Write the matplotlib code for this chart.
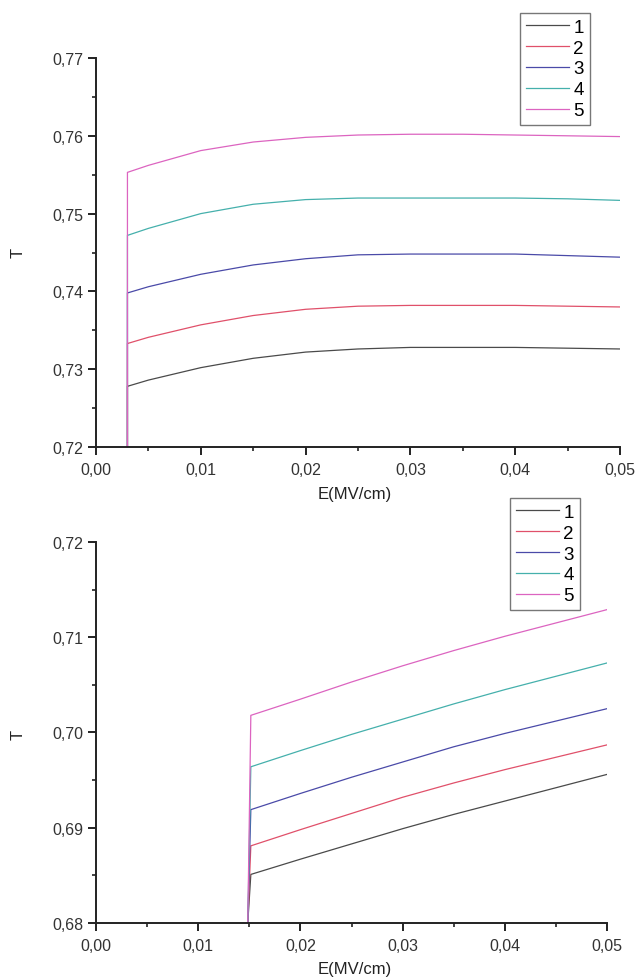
import matplotlib
matplotlib.use('Agg')
import matplotlib.pyplot as plt
from matplotlib.ticker import MultipleLocator, FuncFormatter

plt.rcParams['font.family'] = ['Liberation Sans', 'DejaVu Sans']

labels = ['1', '2', '3', '4', '5']
colors = ['#4a4a4a', '#e0506a', '#4a4aa8', '#45b0ac', '#dc64c0']

# top panel
E_top = [0.003, 0.003, 0.005, 0.01, 0.015, 0.02, 0.025, 0.03, 0.035, 0.04, 0.045, 0.05]
T_top = [
    [0.72, 0.7278, 0.7286, 0.7302, 0.7314, 0.7322, 0.7326, 0.7328, 0.7328, 0.7328, 0.7327, 0.7326],
    [0.72, 0.7333, 0.7341, 0.7357, 0.7369, 0.7377, 0.7381, 0.7382, 0.7382, 0.7382, 0.7381, 0.7380],
    [0.72, 0.7398, 0.7406, 0.7422, 0.7434, 0.7442, 0.7447, 0.7448, 0.7448, 0.7448, 0.7446, 0.7444],
    [0.72, 0.7472, 0.7481, 0.7500, 0.7512, 0.7518, 0.7520, 0.7520, 0.7520, 0.7520, 0.7519, 0.7517],
    [0.72, 0.7553, 0.7562, 0.7581, 0.7592, 0.7598, 0.7601, 0.7602, 0.7602, 0.7601, 0.7600, 0.7599],
]

# bottom panel
E_bot = [0.01485, 0.01515, 0.02, 0.025, 0.03, 0.035, 0.04, 0.045, 0.05]
T_bot = [
    [0.68, 0.6851, 0.6867, 0.6883, 0.6899, 0.6914, 0.6928, 0.6942, 0.6956],
    [0.68, 0.6881, 0.6898, 0.6915, 0.6932, 0.6947, 0.6961, 0.6974, 0.6987],
    [0.68, 0.6919, 0.6936, 0.6953, 0.6969, 0.6985, 0.6999, 0.7012, 0.7025],
    [0.68, 0.6964, 0.6981, 0.6998, 0.7014, 0.7030, 0.7045, 0.7059, 0.7073],
    [0.68, 0.7018, 0.7035, 0.7053, 0.7070, 0.7086, 0.7101, 0.7115, 0.7129],
]

W, H = 636, 978
fig = plt.figure(figsize=(W / 100, H / 100), dpi=100)

comma = FuncFormatter(lambda v, p: ('%.2f' % v).replace('.', ','))


def style(ax, ylo, yhi):
    ax.set_xlim(0, 0.05)
    ax.set_ylim(ylo, yhi)
    for s in ['top', 'right']:
        ax.spines[s].set_visible(False)
    for s in ['left', 'bottom']:
        ax.spines[s].set_linewidth(1.4)
        ax.spines[s].set_color('#222222')
    ax.xaxis.set_major_locator(MultipleLocator(0.01))
    ax.xaxis.set_minor_locator(MultipleLocator(0.005))
    ax.yaxis.set_major_locator(MultipleLocator(0.01))
    ax.yaxis.set_minor_locator(MultipleLocator(0.005))
    ax.xaxis.set_major_formatter(comma)
    ax.yaxis.set_major_formatter(comma)
    ax.tick_params(which='major', length=6, width=1.4, color='#222222',
                   labelsize=11.5, labelcolor='#333333', pad=3)
    ax.tick_params(axis='x', which='major', pad=5)
    ax.tick_params(which='minor', length=3, width=1.2, color='#222222')


def legend(ax, x0, y0):
    ax.legend(loc='upper left', bbox_to_anchor=(x0 / W, 1 - y0 / H),
              bbox_transform=fig.transFigure, fontsize=13.5, frameon=True,
              fancybox=False, edgecolor='#777777', framealpha=1,
              borderaxespad=0, handlelength=2.3, handletextpad=0.25,
              labelspacing=0.2, borderpad=0.3)


ax1 = fig.add_axes([96 / W, 1 - 448 / H, 524 / W, 389 / H])
for t, lab, col in zip(T_top, labels, colors):
    ax1.plot(E_top, t, color=col, lw=0.9, label=lab)
style(ax1, 0.72, 0.77)
ax1.set_xlabel('E(MV/cm)', fontsize=12, color='#222222')
ax1.set_ylabel('T', fontsize=12, color='#222222')
ax1.xaxis.set_label_coords(355 / W, 1 - 487 / H, transform=fig.transFigure)
ax1.yaxis.set_label_coords(26 / W, 1 - 253 / H, transform=fig.transFigure)
legend(ax1, 520, 14)

ax2 = fig.add_axes([96 / W, 1 - 924 / H, 511 / W, 381 / H])
for t, lab, col in zip(T_bot, labels, colors):
    ax2.plot(E_bot, t, color=col, lw=0.9, label=lab)
style(ax2, 0.68, 0.72)
ax2.set_xlabel('E(MV/cm)', fontsize=12, color='#222222')
ax2.set_ylabel('T', fontsize=12, color='#222222')
ax2.xaxis.set_label_coords(355 / W, 1 - 962 / H, transform=fig.transFigure)
ax2.yaxis.set_label_coords(26 / W, 1 - 735 / H, transform=fig.transFigure)
legend(ax2, 510, 499)

fig.savefig('out.png', dpi=100)
